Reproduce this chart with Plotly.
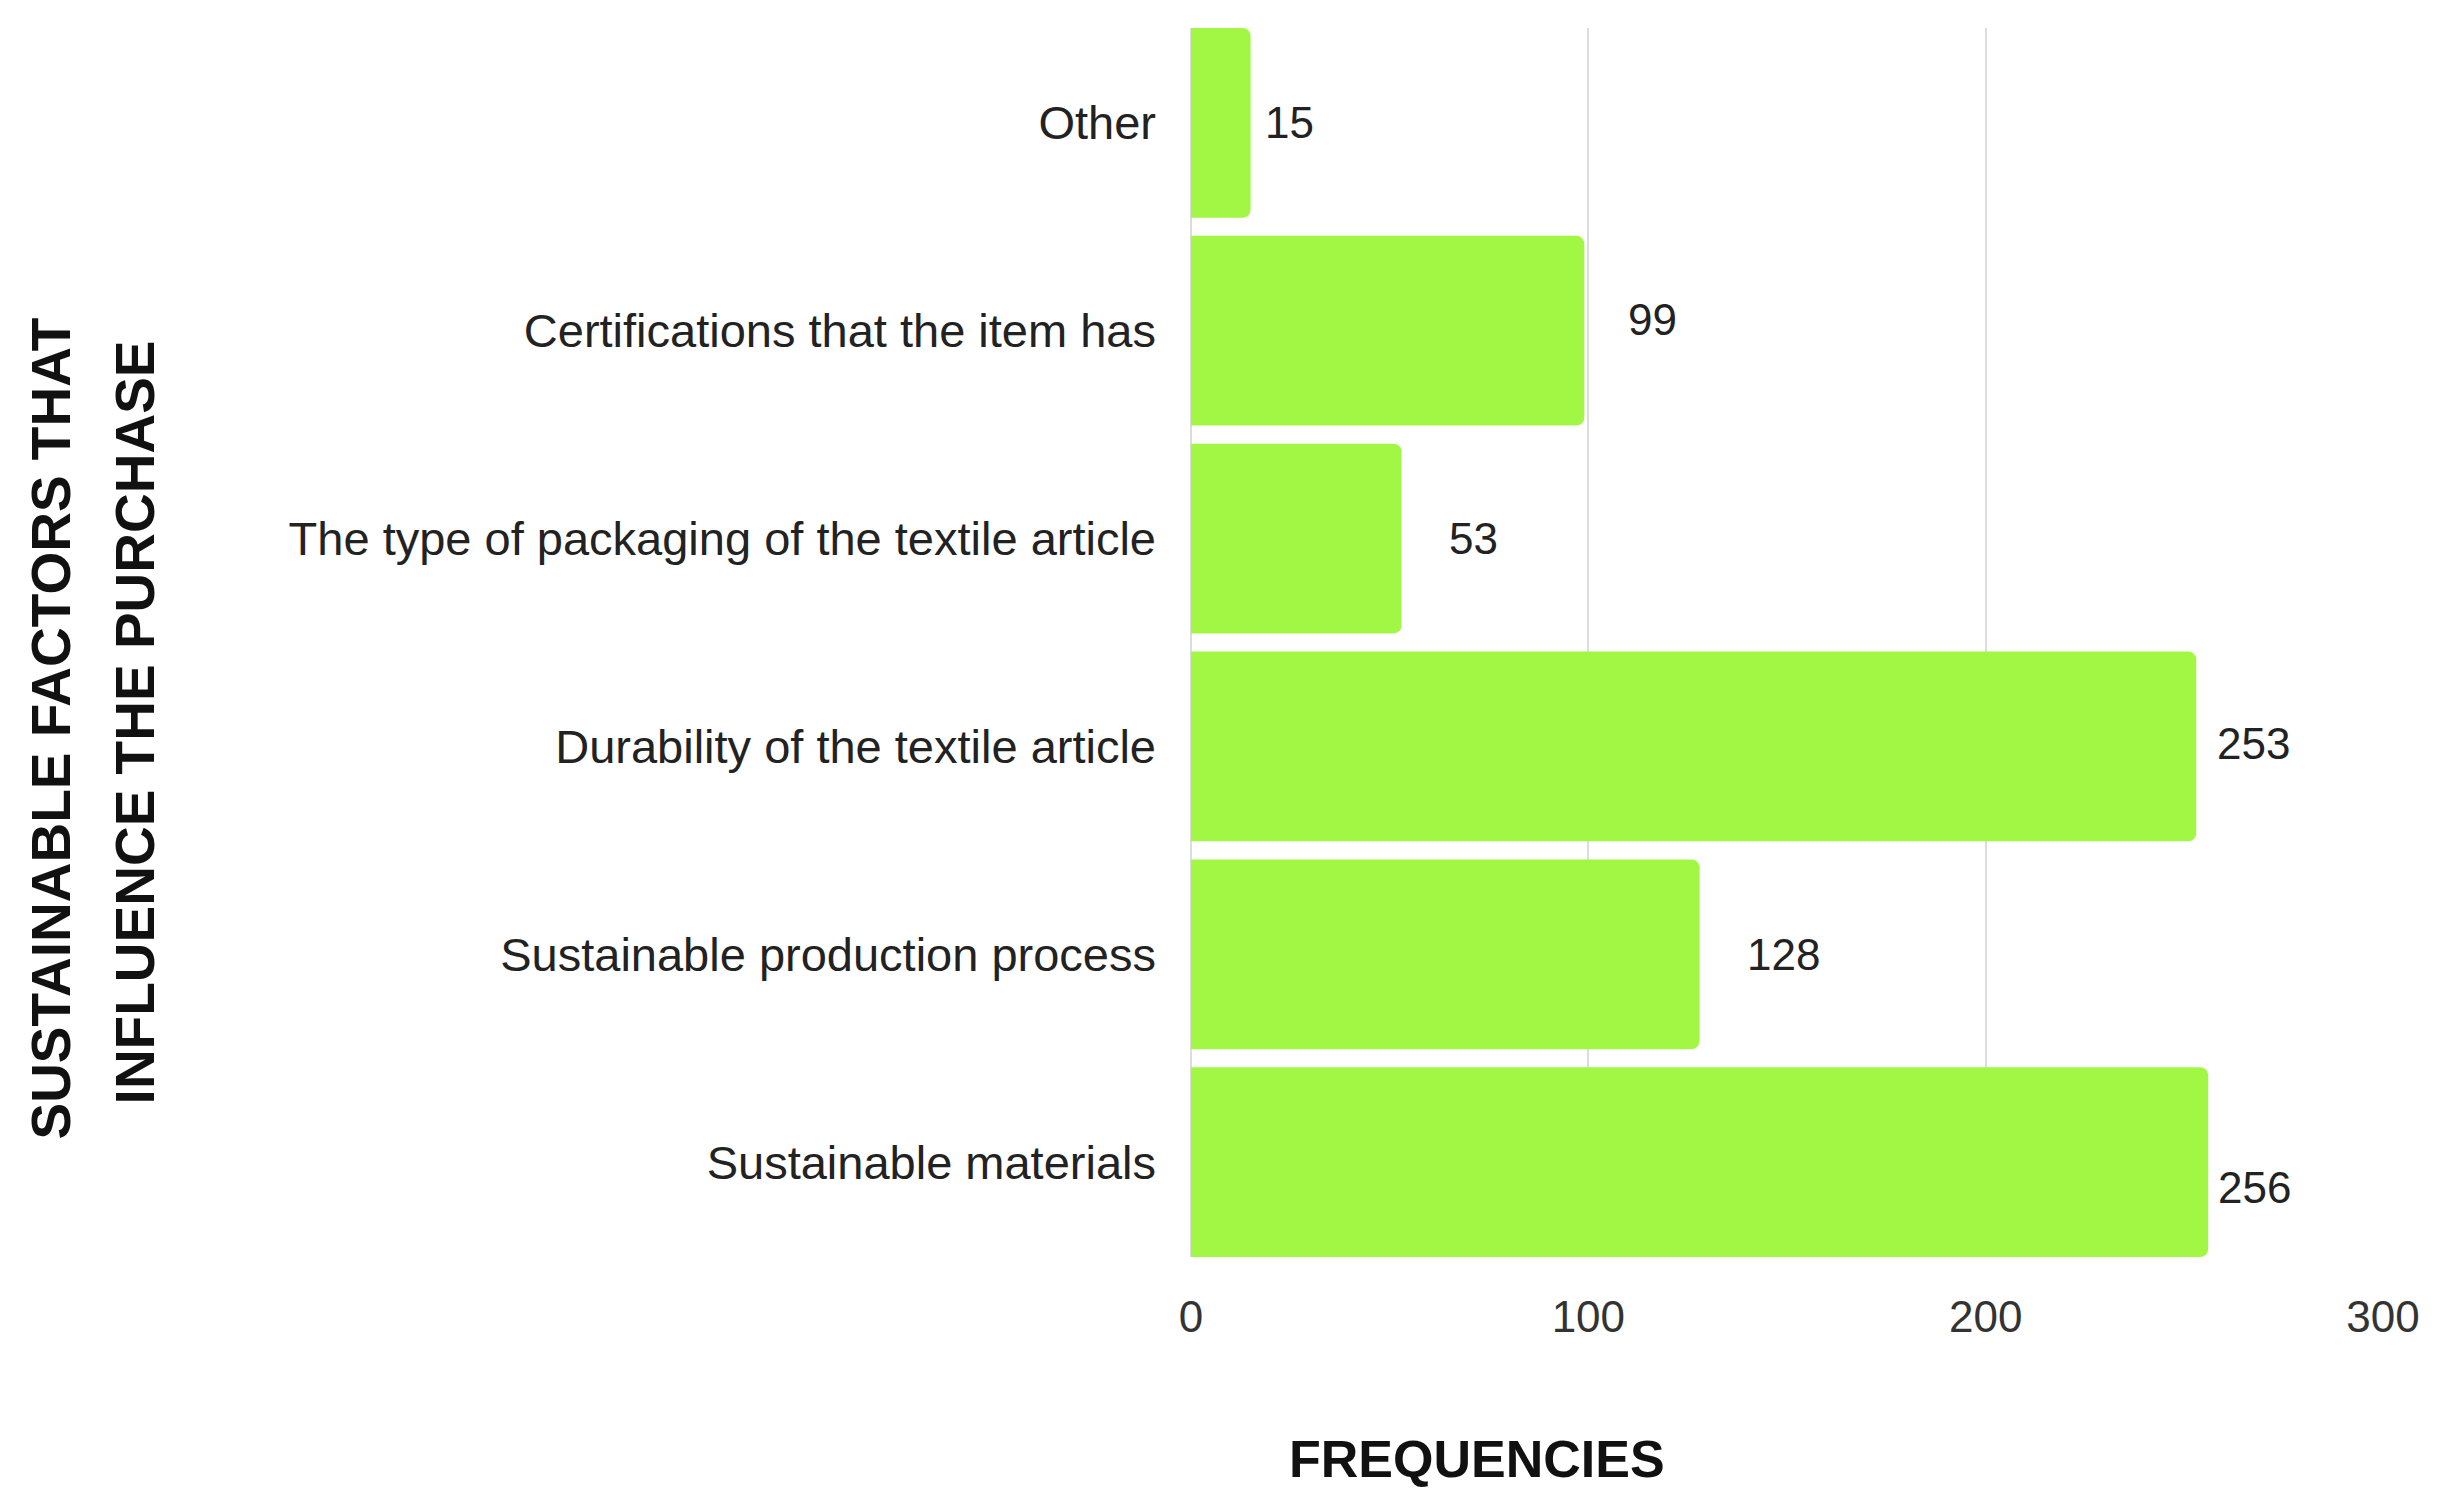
import plotly.graph_objects as go

# categories listed bottom -> top, as plotly draws them
factors = [
    "Sustainable materials",
    "Sustainable production process",
    "Durability of the textile article",
    "The type of packaging of the textile article",
    "Certifications that the item has",
    "Other",
]
frequencies = [256, 128, 253, 53, 99, 15]
x_ticks = [0, 100, 200, 300]

# per-label nudges (pixels), matching the placement in the source image
label_dx = [8, 45, 19, 45, 42, 12]
label_dy = [-25, 0, 3, 0, 11, 0]

BAR_COLOR = "#a2f744"
FONT = "Liberation Sans"
BAR_GAP = 0.087

fig = go.Figure()

fig.add_trace(go.Bar(
    x=frequencies,
    y=factors,
    orientation="h",
    marker=dict(color=BAR_COLOR, cornerradius=8, line=dict(width=0)),
    hoverinfo="x+y",
))

for f, v, dx, dy in zip(factors, frequencies, label_dx, label_dy):
    fig.add_annotation(
        x=v, y=f, text=str(v), showarrow=False,
        xanchor="left", yanchor="middle", xshift=dx, yshift=dy,
        font=dict(family=FONT, size=44, color="#222222"),
    )

# axis titles placed as annotations (they sit off-centre in the original)
y_title_lines = ["SUSTAINABLE FACTORS THAT", "INFLUENCE THE PURCHASE"]
for line, dx, py in zip(y_title_lines, [-1140, -1056], [0.43, 0.435]):
    fig.add_annotation(
        xref="paper", yref="paper", x=0, y=py, xshift=dx,
        text="<b>%s</b>" % line,
        textangle=-90, showarrow=False, xanchor="center", yanchor="middle",
        font=dict(family=FONT, size=55, color="#111111"),
    )
fig.add_annotation(
    xref="paper", yref="paper", x=0.24, y=0, yshift=-202,
    text="<b>FREQUENCIES</b>", showarrow=False,
    xanchor="center", yanchor="middle",
    font=dict(family=FONT, size=52, color="#111111"),
)

fig.update_layout(
    width=2439,
    height=1500,
    margin=dict(l=1183, r=64, t=20, b=251),
    paper_bgcolor="white",
    plot_bgcolor="white",
    bargap=BAR_GAP,
    showlegend=False,
    font=dict(family=FONT, color="#222222"),
)

half = (1 - BAR_GAP) / 2
fig.update_xaxes(
    range=[0, 300],
    tickvals=x_ticks,
    ticktext=[str(t) for t in x_ticks],
    tickfont=dict(family=FONT, size=44, color="#333333"),
    showgrid=True, gridcolor="#dcdcdc", gridwidth=2,
    zeroline=True, zerolinecolor="#dcdcdc", zerolinewidth=2,
    showline=False, ticks="", ticklabelstandoff=30,
)
fig.update_yaxes(
    categoryorder="array", categoryarray=factors,
    range=[-half, len(factors) - 1 + half],
    tickfont=dict(family=FONT, size=47, color="#222222"),
    showgrid=False, zeroline=False, showline=False,
    ticks="", ticklabelstandoff=34,
)

fig.write_html("out.html")
